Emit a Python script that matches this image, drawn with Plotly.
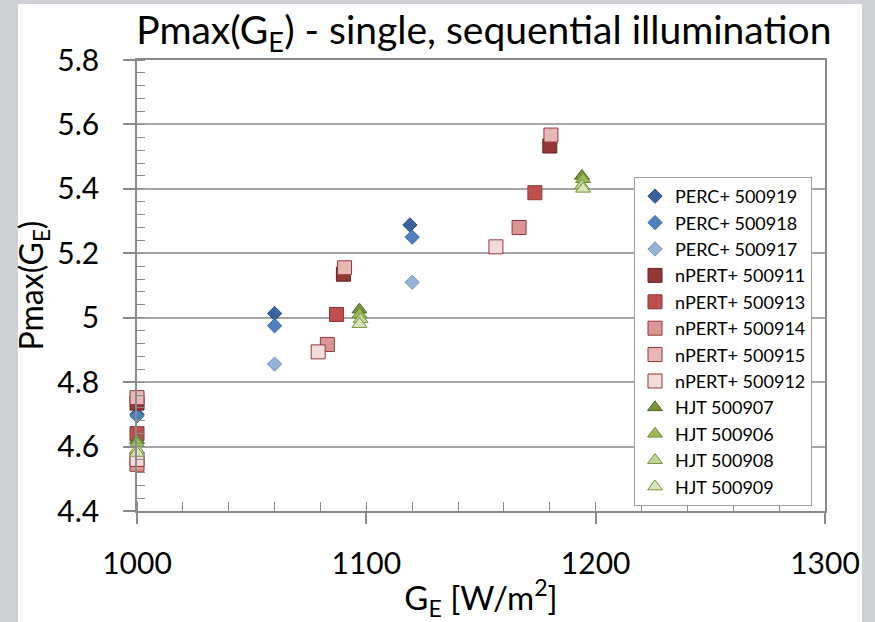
import plotly.graph_objects as go

# ---------------- data ----------------
names = ["PERC+ 500919", "PERC+ 500918", "PERC+ 500917",
         "nPERT+ 500911", "nPERT+ 500913", "nPERT+ 500914", "nPERT+ 500915", "nPERT+ 500912",
         "HJT 500907", "HJT 500906", "HJT 500908", "HJT 500909"]

x_perc_500919 = [1000, 1060, 1119]
y_perc_500919 = [4.700, 5.013, 5.288]
x_perc_500918 = [1000, 1060, 1120]
y_perc_500918 = [4.695, 4.975, 5.250]
x_perc_500917 = [1000, 1060, 1120]
y_perc_500917 = [4.640, 4.856, 5.110]

x_npert_500911 = [1000, 1090, 1180]
y_npert_500911 = [4.735, 5.135, 5.533]
x_npert_500913 = [1000, 1087, 1173.5]
y_npert_500913 = [4.640, 5.010, 5.388]
x_npert_500914 = [1000, 1083, 1166.6]
y_npert_500914 = [4.545, 4.917, 5.280]
x_npert_500915 = [1000, 1090.5, 1180.5]
y_npert_500915 = [4.752, 5.155, 5.567]
x_npert_500912 = [1000, 1079, 1156.5]
y_npert_500912 = [4.560, 4.894, 5.220]

x_hjt_500907 = [1000, 1097, 1194]
y_hjt_500907 = [4.620, 5.025, 5.440]
x_hjt_500906 = [1000, 1097, 1194.5]
y_hjt_500906 = [4.610, 5.010, 5.430]
x_hjt_500908 = [1000, 1097.5, 1194]
y_hjt_500908 = [4.590, 4.995, 5.410]
x_hjt_500909 = [1000, 1097, 1194.5]
y_hjt_500909 = [4.580, 4.980, 5.400]

xs = [x_perc_500919, x_perc_500918, x_perc_500917,
      x_npert_500911, x_npert_500913, x_npert_500914, x_npert_500915, x_npert_500912,
      x_hjt_500907, x_hjt_500906, x_hjt_500908, x_hjt_500909]
ys = [y_perc_500919, y_perc_500918, y_perc_500917,
      y_npert_500911, y_npert_500913, y_npert_500914, y_npert_500915, y_npert_500912,
      y_hjt_500907, y_hjt_500906, y_hjt_500908, y_hjt_500909]

y_tick_vals = [4.4, 4.6, 4.8, 5.0, 5.2, 5.4, 5.6, 5.8]
y_tick_text = ["4.4", "4.6", "4.8", "5", "5.2", "5.4", "5.6", "5.8"]
x_tick_vals = [1000, 1100, 1200, 1300]
x_tick_text = ["1000", "1100", "1200", "1300"]

# ---------------- styles ----------------
symbols = ["diamond"] * 3 + ["square"] * 5 + ["triangle-up"] * 4
sizes = [11] * 3 + [14] * 5 + [13] * 4
fills = ["#3A64A0", "#4F81BD", "#95B3D7",
         "#953735", "#C0504D", "#D99694", "#E6B9B8", "#F2DCDB",
         "#77933C", "#9BBB59", "#C3D69B", "#D7E4BD"]
lines = ["#2B4A78", "#3F6A9F", "#7094C0",
         "#632523", "#8C3836", "#953735", "#953735", "#953735",
         "#4F6228", "#6A8A2E", "#77933C", "#77933C"]

FONT = "Lato"

fig = go.Figure()
for n, x, y, s, sz, fc, lc in zip(names, xs, ys, symbols, sizes, fills, lines):
    fig.add_trace(go.Scatter(
        x=x, y=y, name=n, mode="markers", cliponaxis=False,
        marker=dict(symbol=s, size=sz, color=fc, line=dict(color=lc, width=1)),
    ))

fig.update_layout(
    width=875, height=622,
    margin=dict(l=137, r=50, t=60, b=111),
    paper_bgcolor="#CFD0D4",
    plot_bgcolor="white",
    font=dict(family=FONT, color="black"),
    title=dict(text="Pmax(G<sub>E</sub>) - single, sequential illumination",
               x=0.553, xanchor="center", y=0.952, yanchor="middle",
               font=dict(size=39, family=FONT, color="black")),
    showlegend=True,
    legend=dict(x=0.7224, y=0.7406, xanchor="left", yanchor="top",
                bgcolor="white", bordercolor="#A0A0A0", borderwidth=1,
                font=dict(size=18, family=FONT, color="black"),
                tracegroupgap=0, itemsizing="trace"),
    shapes=[dict(type="rect", xref="paper", yref="paper",
                 x0=-137/688 + 18/688, x1=1 + (862 - 825)/688,
                 y0=-111/451, y1=1 + (60 - 4)/451,
                 fillcolor="white", line=dict(width=0), layer="below")],
)

fig.update_xaxes(
    range=[1000, 1300], tickvals=x_tick_vals, ticktext=x_tick_text,
    showgrid=False, zeroline=False,
    showline=True, linecolor="#8A8A8A", linewidth=1.5, mirror=True,
    ticks="outside", ticklen=11, tickcolor="#8A8A8A", tickwidth=1.5,
    minor=dict(dtick=20, tick0=1000, ticks="inside", ticklen=9, tickcolor="#8A8A8A", tickwidth=1.2, showgrid=False),
    tickfont=dict(size=30, family=FONT, color="black"),
    ticklabelstandoff=14,
    title=dict(text="G<sub>E</sub> [W/m<sup>2</sup>]", font=dict(size=33, family=FONT, color="black"), standoff=8),
)
fig.update_yaxes(
    range=[4.4, 5.8], tickvals=y_tick_vals, ticktext=y_tick_text,
    showgrid=True, gridcolor="#A6A6A6", gridwidth=1.5, zeroline=False,
    showline=True, linecolor="#8A8A8A", linewidth=1.5, mirror=True,
    ticks="outside", ticklen=12, tickcolor="#8A8A8A", tickwidth=1.5,
    minor=dict(dtick=0.04, tick0=4.4, ticks="inside", ticklen=8, tickcolor="#8A8A8A", tickwidth=1.2, showgrid=False),
    tickfont=dict(size=30, family=FONT, color="black"),
    ticklabelstandoff=18,
    title=dict(text="Pmax(G<sub>E</sub>)", font=dict(size=32, family=FONT, color="black"), standoff=4),
)

fig.write_html("out.html")
